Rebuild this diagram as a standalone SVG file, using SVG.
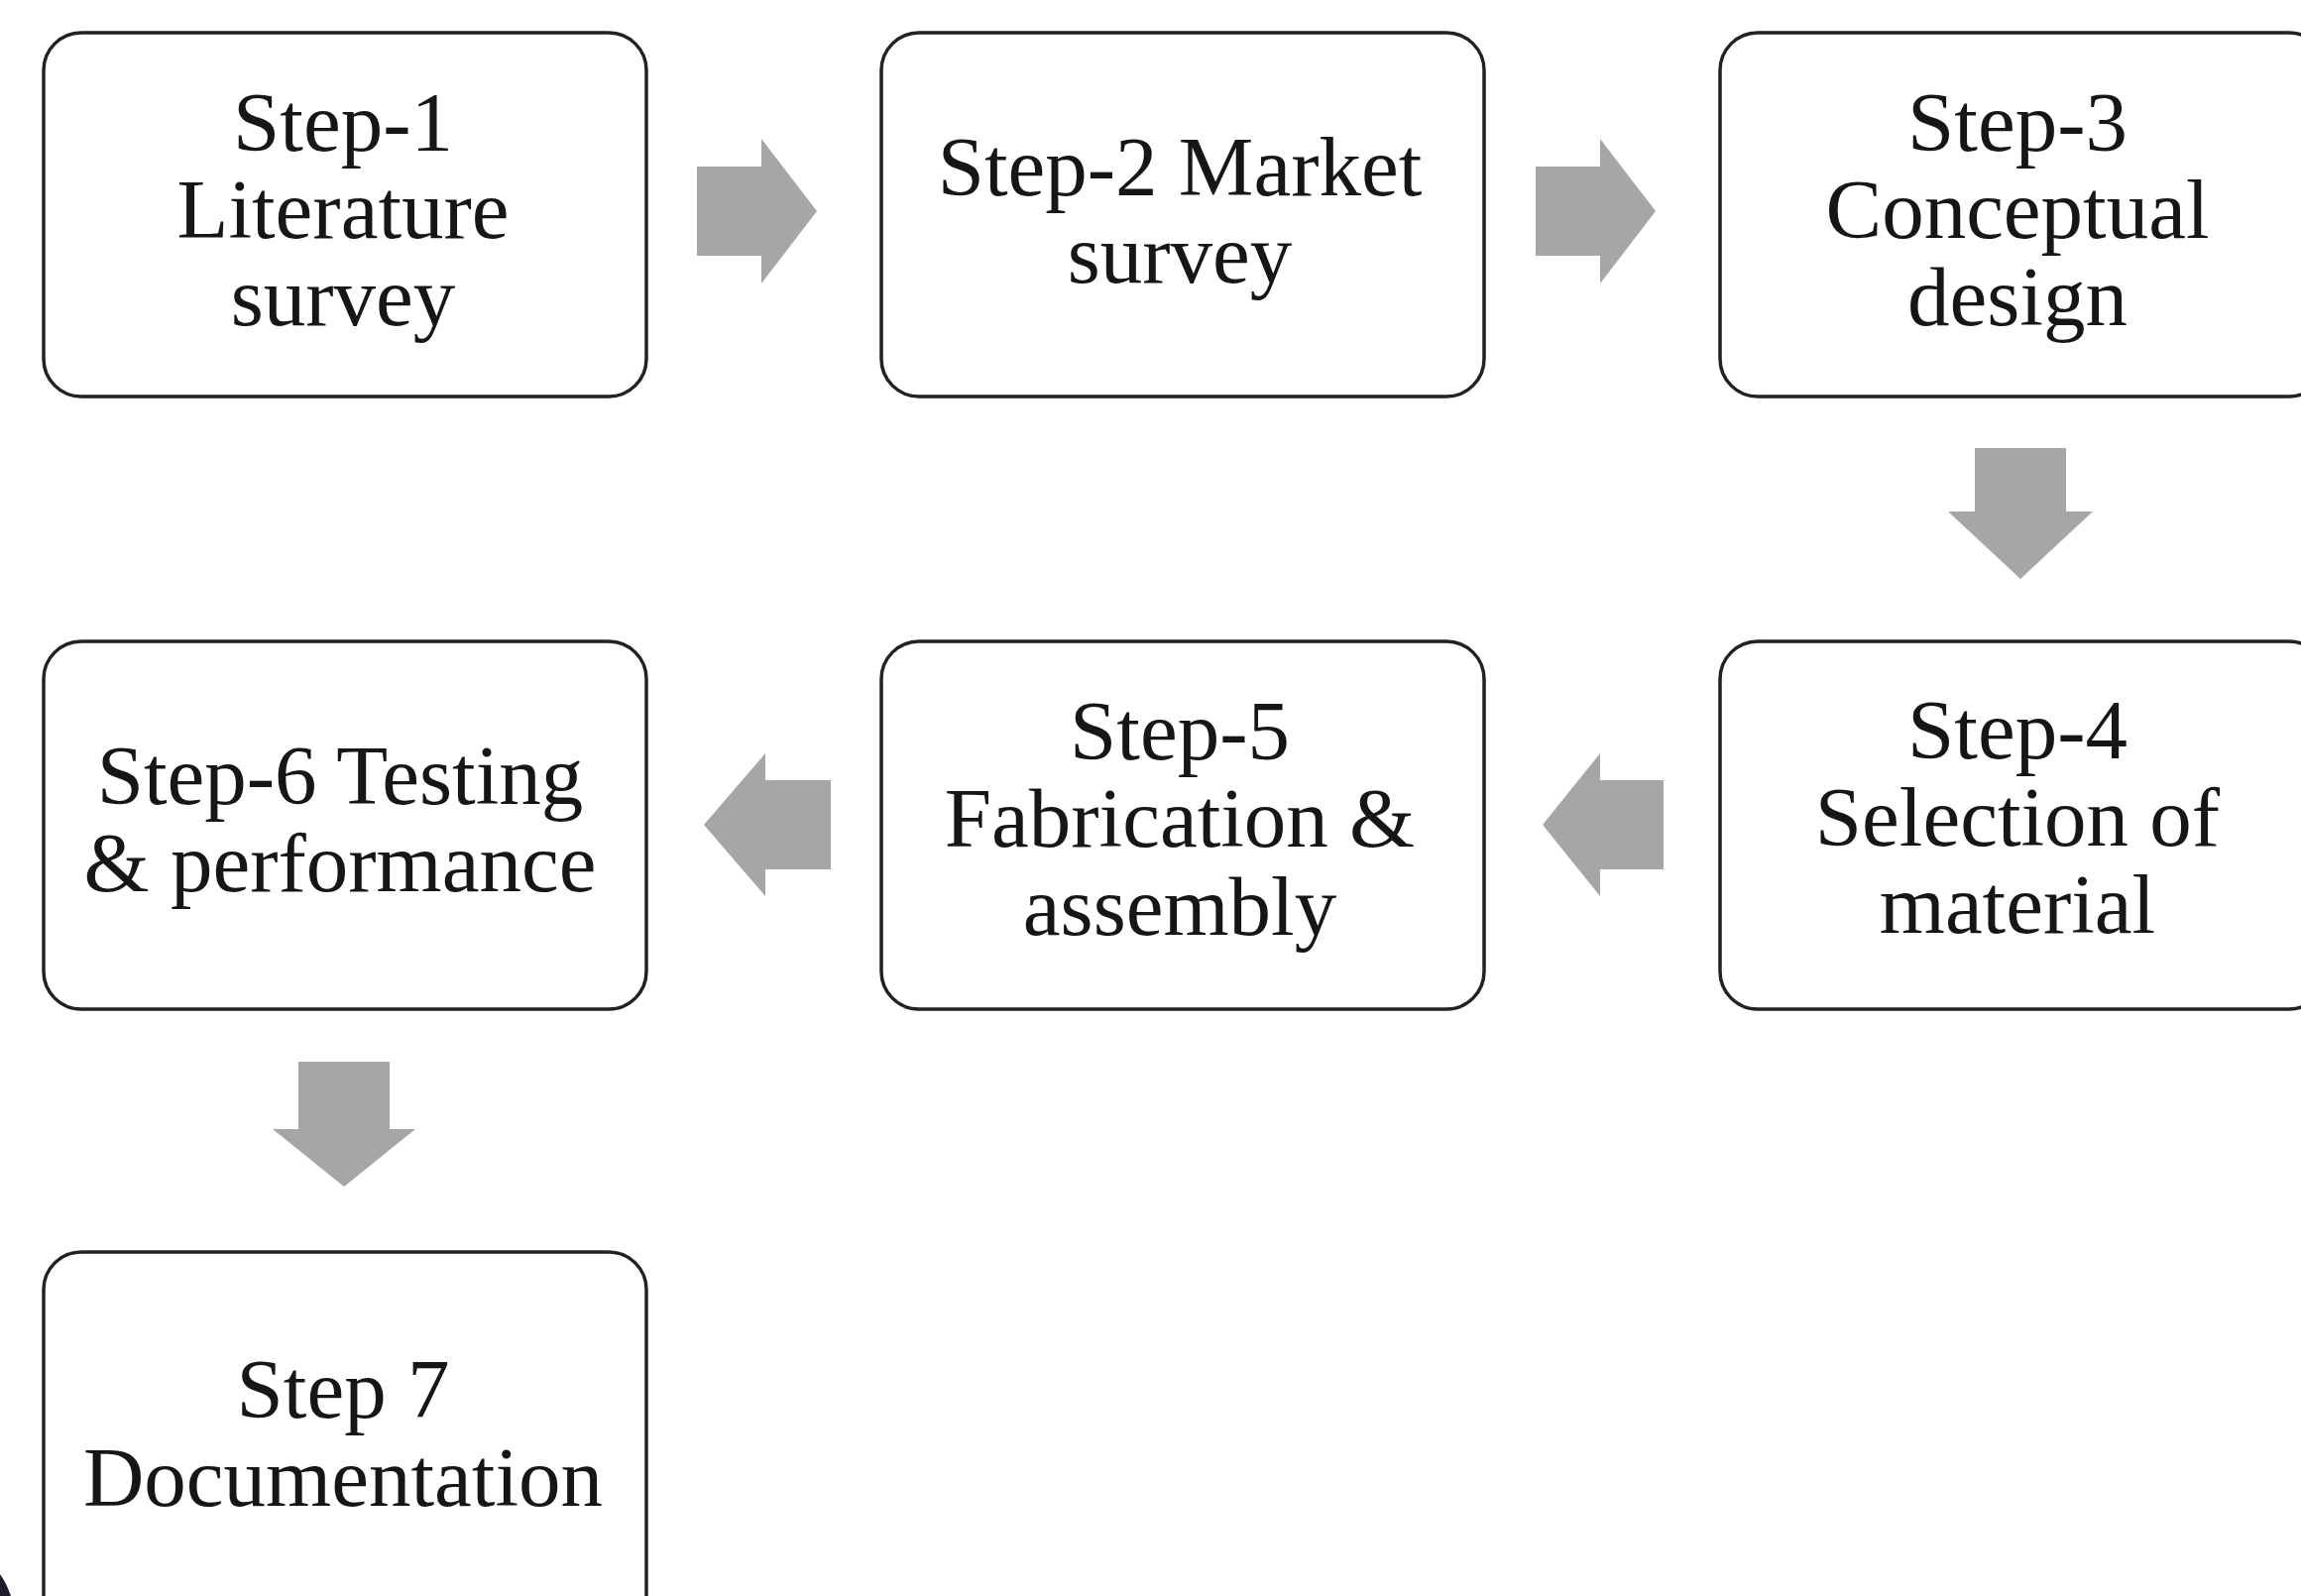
<svg xmlns="http://www.w3.org/2000/svg" width="2321" height="1610" viewBox="0 0 2321 1610">
  <style>
    .box { fill: #ffffff; stroke: #222222; stroke-width: 3.5; }
    .lbl { font-family: "Liberation Serif", "Times New Roman", serif; font-size: 85px; fill: #161616; text-anchor: middle; }
    .arr { fill: #a6a6a6; }
  </style>
  <rect x="0" y="0" width="2321" height="1610" fill="#ffffff"/>

  <g id="connectors">
    <polygon class="arr" points="703,168 768,168 768,140 824,213 768,286 768,258 703,258"/>
    <polygon class="arr" points="1549,168 1614,168 1614,140 1670,213 1614,286 1614,258 1549,258"/>
    <polygon class="arr" points="1992,452 2084,452 2084,516 2111,516 2038,584 1965,516 1992,516"/>
    <polygon class="arr" points="1678,787 1614,787 1614,760 1556,832 1614,904 1614,877 1678,877"/>
    <polygon class="arr" points="838,787 772,787 772,760 710,832 772,904 772,877 838,877"/>
    <polygon class="arr" points="301,1071 393,1071 393,1139 419,1139 347,1197 275,1139 301,1139"/>
  </g>

  <g id="step1">
    <rect class="box" x="44" y="33" width="608" height="367" rx="38" ry="38"/>
    <text class="lbl" x="346" y="152">Step-1</text>
    <text class="lbl" x="346" y="240">Literature</text>
    <text class="lbl" x="346" y="328">survey</text>
  </g>

  <g id="step2">
    <rect class="box" x="889" y="33" width="608" height="367" rx="38" ry="38"/>
    <text class="lbl" x="1190" y="197">Step-2 Market</text>
    <text class="lbl" x="1190" y="285">survey</text>
  </g>

  <g id="step3">
    <rect class="box" x="1735" y="33" width="612" height="367" rx="38" ry="38"/>
    <text class="lbl" x="2035" y="152">Step-3</text>
    <text class="lbl" x="2035" y="240">Conceptual</text>
    <text class="lbl" x="2035" y="328">design</text>
  </g>

  <g id="step4">
    <rect class="box" x="1735" y="647" width="612" height="371" rx="38" ry="38"/>
    <text class="lbl" x="2035" y="765">Step-4</text>
    <text class="lbl" x="2035" y="853">Selection of</text>
    <text class="lbl" x="2035" y="941">material</text>
  </g>

  <g id="step5">
    <rect class="box" x="889" y="647" width="608" height="371" rx="38" ry="38"/>
    <text class="lbl" x="1190" y="766">Step-5</text>
    <text class="lbl" x="1190" y="854">Fabrication &amp;</text>
    <text class="lbl" x="1190" y="943">assembly</text>
  </g>

  <g id="step6">
    <rect class="box" x="44" y="647" width="608" height="371" rx="38" ry="38"/>
    <text class="lbl" x="343" y="811">Step-6 Testing</text>
    <text class="lbl" x="343" y="899">&amp; performance</text>
  </g>

  <g id="step7">
    <rect class="box" x="44" y="1263" width="608" height="400" rx="38" ry="38"/>
    <text class="lbl" x="346" y="1430">Step 7</text>
    <text class="lbl" x="346" y="1519">Documentation</text>
  </g>

  <path d="M0,1588 Q6,1596 11,1610 L0,1610 Z" fill="#1c1c2c"/>
</svg>
